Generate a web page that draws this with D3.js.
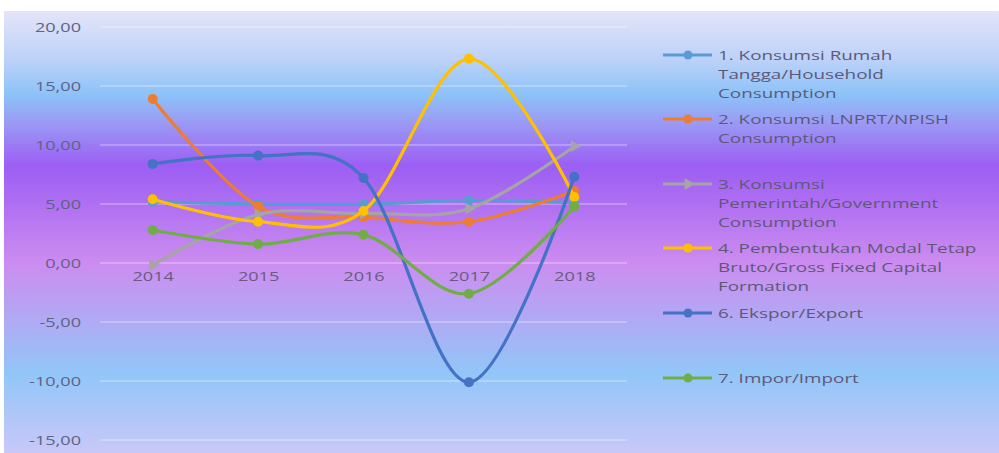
<!DOCTYPE html>
<html>
<head>
<meta charset="utf-8">
<script src="https://cdn.jsdelivr.net/npm/d3@7"></script>
<style>
  body { margin: 0; background: #fff; }
  svg { display: block; }
</style>
</head>
<body>
<div id="chart"></div>
<script>
// data
const years = ["2014", "2015", "2016", "2017", "2018"];
const yTicks = [20, 15, 10, 5, 0, -5, -10, -15];

const household = [5.2, 5.0, 5.0, 5.3, 5.1];
const npish     = [13.9, 4.8, 3.9, 3.5, 6.1];
const government = [-0.2, 4.1, 4.2, 4.6, 9.9];
const gfcf      = [5.4, 3.5, 4.4, 17.3, 5.6];
const ekspor    = [8.4, 9.1, 7.2, -10.1, 7.3];
const impor     = [2.8, 1.6, 2.4, -2.6, 4.8];

const series = [
  {name: ["1. Konsumsi Rumah", "Tangga/Household", "Consumption"], values: household, color: "#5b9bd5", shape: "circle"},
  {name: ["2. Konsumsi LNPRT/NPISH", "Consumption"], values: npish, color: "#ed7d31", shape: "circle"},
  {name: ["3. Konsumsi", "Pemerintah/Government", "Consumption"], values: government, color: "#a5a5a5", shape: "triangle"},
  {name: ["4. Pembentukan Modal Tetap", "Bruto/Gross Fixed Capital", "Formation"], values: gfcf, color: "#ffc000", shape: "circle"},
  {name: ["6. Ekspor/Export"], values: ekspor, color: "#4472c4", shape: "circle"},
  {name: ["7. Impor/Import"], values: impor, color: "#70ad47", shape: "circle"}
];

const width = 999, height = 453;
// the source picture is stretched sideways, so text is widened too
const stretch = 1.45;

const svg = d3.select("#chart").append("svg")
    .attr("width", width)
    .attr("height", height);

// background gradient
const grad = svg.append("defs").append("linearGradient")
    .attr("id", "bg")
    .attr("x1", 0).attr("y1", 0).attr("x2", 0).attr("y2", 1);
[[0, "#e4e4f8"], [0.11, "#bcd2f8"], [0.19, "#8cc2f8"], [0.25, "#9a9cf4"],
 [0.35, "#9c5ef4"], [0.43, "#ae6ef2"], [0.57, "#cc8cf0"], [0.7, "#b0aaf4"],
 [0.82, "#92c6f8"], [1, "#c8c8f8"]].forEach(s => {
  grad.append("stop").attr("offset", s[0]).attr("stop-color", s[1]);
});

svg.append("rect")
    .attr("x", 4).attr("y", 11)
    .attr("width", width - 4).attr("height", height - 11)
    .attr("fill", "url(#bg)");

const x = d3.scalePoint()
    .domain(years)
    .range([100, 627])
    .padding(0.5);

const y = d3.scaleLinear()
    .domain([-15, 20])
    .range([440, 27]);

const fmt = v => d3.format(".2f")(v).replace(".", ",").replace("−", "-");

// gridlines
svg.append("g")
  .selectAll("line")
  .data(yTicks)
  .join("line")
    .attr("x1", 100)
    .attr("x2", 627)
    .attr("y1", d => y(d))
    .attr("y2", d => y(d))
    .attr("stroke", "#ffffff")
    .attr("stroke-opacity", 0.5)
    .attr("stroke-width", 1.2);

// y axis labels
const yAxis = d3.axisLeft(y).tickValues(yTicks).tickFormat(fmt).tickSize(0).tickPadding(0);
svg.append("g")
    .attr("transform", "translate(81,0)")
    .call(yAxis)
    .call(g => g.select(".domain").remove())
    .call(g => g.selectAll("text")
        .attr("transform", `scale(${stretch},1)`)
        .attr("font-family", "'Open Sans', sans-serif")
        .attr("font-size", 12.5)
        .attr("fill", "#5e6282"));

// x axis labels sit under the zero line
const xAxis = d3.axisBottom(x).tickSize(0).tickPadding(9);
svg.append("g")
    .attr("transform", `translate(0,${y(0)})`)
    .call(xAxis)
    .call(g => g.select(".domain").remove())
    .call(g => g.selectAll("text")
        .attr("transform", `scale(${stretch},1)`)
        .attr("font-family", "'Open Sans', sans-serif")
        .attr("font-size", 12.5)
        .attr("fill", "#6a5a80"));

// lines
const line = d3.line()
    .x((d, i) => x(years[i]))
    .y(d => y(d))
    .curve(d3.curveCatmullRom.alpha(0));

const tri = d3.symbol().type(d3.symbolTriangle).size(60);

series.forEach(s => {
  svg.append("path")
      .datum(s.values)
      .attr("d", line)
      .attr("fill", "none")
      .attr("stroke", s.color)
      .attr("stroke-width", 3.2)
      .attr("stroke-linecap", "round");

  const pts = svg.append("g");
  if (s.shape === "triangle") {
    pts.selectAll("path")
      .data(s.values)
      .join("path")
        .attr("d", tri)
        .attr("transform", (d, i) => `translate(${x(years[i])},${y(d)}) rotate(90)`)
        .attr("fill", s.color);
  } else {
    pts.selectAll("circle")
      .data(s.values)
      .join("circle")
        .attr("cx", (d, i) => x(years[i]))
        .attr("cy", d => y(d))
        .attr("r", 5)
        .attr("fill", s.color);
  }
});

// legend
const legendTop = [55, 119, 184, 248, 313, 378];
const leg = svg.append("g");
series.forEach((s, i) => {
  const ly = legendTop[i];
  leg.append("line")
      .attr("x1", 663).attr("x2", 712)
      .attr("y1", ly).attr("y2", ly)
      .attr("stroke", s.color)
      .attr("stroke-width", 3);
  if (s.shape === "triangle") {
    leg.append("path")
        .attr("d", tri)
        .attr("transform", `translate(688,${ly}) rotate(90)`)
        .attr("fill", s.color);
  } else {
    leg.append("circle")
        .attr("cx", 688).attr("cy", ly).attr("r", 4.5)
        .attr("fill", s.color);
  }
  const t = leg.append("text")
      .attr("transform", `translate(718,${ly + 4.5}) scale(${stretch},1)`)
      .attr("font-family", "'Open Sans', sans-serif")
      .attr("font-size", 13)
      .attr("fill", "#5e5878");
  s.name.forEach((n, j) => {
    t.append("tspan")
        .attr("x", 0)
        .attr("dy", j === 0 ? 0 : 19.3)
        .text(n);
  });
});
</script>
</body>
</html>
